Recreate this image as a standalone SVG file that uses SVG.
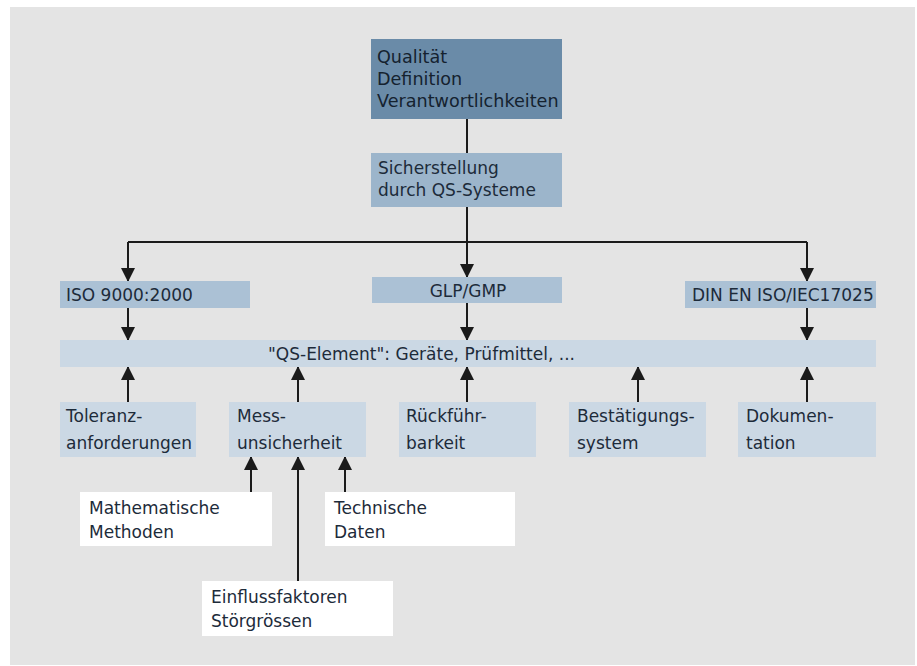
<svg xmlns="http://www.w3.org/2000/svg" width="917" height="666" viewBox="0 0 917 666">
<defs>
<marker id="ah" viewBox="0 0 14 14" refX="13" refY="7" markerWidth="14" markerHeight="14" markerUnits="userSpaceOnUse" orient="auto">
<path d="M0,0 L14,7 L0,14 Z" fill="#1a1a1a"/>
</marker>
<style>
text{font-family:"DejaVu Sans","Liberation Sans",sans-serif;font-size:17px;fill:#1d2b3a}
.big{font-size:17.6px;fill:#15222f}
.dark{fill:#6a8ba8}
.mid{fill:#9cb5cb}
.std{fill:#abc1d5}
.light{fill:#cbd8e4}
.white{fill:#ffffff}
.c{fill:none;stroke:#1a1a1a;stroke-width:2}
.a{fill:none;stroke:#1a1a1a;stroke-width:2;marker-end:url(#ah)}
</style>
</defs>
<rect x="0" y="0" width="917" height="666" fill="#ffffff"/>
<rect x="10" y="7" width="905" height="658" fill="#e4e4e4"/>

<g id="connectors">
<path class="c" d="M467,119 V153"/>
<path class="c" d="M467,207 V242"/>
<path class="c" d="M128,242 H807"/>
<path class="a" d="M128,242 V281"/>
<path class="a" d="M467,242 V277"/>
<path class="a" d="M807,242 V281"/>
<path class="a" d="M128,308 V340"/>
<path class="a" d="M467,303 V340"/>
<path class="a" d="M807,308 V340"/>
<path class="a" d="M128,402 V367"/>
<path class="a" d="M298,402 V367"/>
<path class="a" d="M467,402 V367"/>
<path class="a" d="M638,402 V367"/>
<path class="a" d="M807,402 V367"/>
<path class="a" d="M251,492 V457"/>
<path class="a" d="M345,492 V457"/>
<path class="a" d="M298,581 V457"/>
</g>

<g id="qualitaet">
<rect class="dark" x="371" y="39" width="191" height="80"/>
<text class="big" x="377" y="63">Qualität</text>
<text class="big" x="377" y="85">Definition</text>
<text class="big" x="377" y="107">Verantwortlichkeiten</text>
</g>

<g id="sicherstellung">
<rect class="mid" x="371" y="153" width="191" height="54"/>
<text x="378" y="174">Sicherstellung</text>
<text x="378" y="196">durch QS-Systeme</text>
</g>

<g id="iso9000">
<rect class="std" x="60" y="281" width="190" height="27"/>
<text x="66" y="301">ISO 9000:2000</text>
</g>

<g id="glpgmp">
<rect class="std" x="372" y="277" width="190" height="26"/>
<text x="468" y="297" text-anchor="middle">GLP/GMP</text>
</g>

<g id="din">
<rect class="std" x="685" y="281" width="191" height="27"/>
<text x="692" y="301">DIN EN ISO/IEC17025</text>
</g>

<g id="qselement">
<rect class="light" x="60" y="340" width="816" height="27"/>
<text x="268" y="360">"QS-Element": Geräte, Prüfmittel, ...</text>
</g>

<g id="toleranz">
<rect class="light" x="60" y="402" width="136" height="55"/>
<text x="66" y="422">Toleranz-</text>
<text x="66" y="449">anforderungen</text>
</g>

<g id="messunsicherheit">
<rect class="light" x="229" y="402" width="137" height="55"/>
<text x="237" y="422">Mess-</text>
<text x="237" y="449">unsicherheit</text>
</g>

<g id="rueckfuehrbarkeit">
<rect class="light" x="399" y="402" width="137" height="55"/>
<text x="406" y="422">Rückführ-</text>
<text x="406" y="449">barkeit</text>
</g>

<g id="bestaetigung">
<rect class="light" x="569" y="402" width="137" height="55"/>
<text x="577" y="422">Bestätigungs-</text>
<text x="577" y="449">system</text>
</g>

<g id="dokumentation">
<rect class="light" x="738" y="402" width="138" height="55"/>
<text x="746" y="422">Dokumen-</text>
<text x="746" y="449">tation</text>
</g>

<g id="mathematische">
<rect class="white" x="80" y="492" width="192" height="54"/>
<text x="89" y="514">Mathematische</text>
<text x="89" y="538">Methoden</text>
</g>

<g id="technische">
<rect class="white" x="325" y="492" width="190" height="54"/>
<text x="334" y="514">Technische</text>
<text x="334" y="538">Daten</text>
</g>

<g id="einfluss">
<rect class="white" x="202" y="581" width="191" height="55"/>
<text x="211" y="603">Einflussfaktoren</text>
<text x="211" y="627">Störgrössen</text>
</g>
</svg>
